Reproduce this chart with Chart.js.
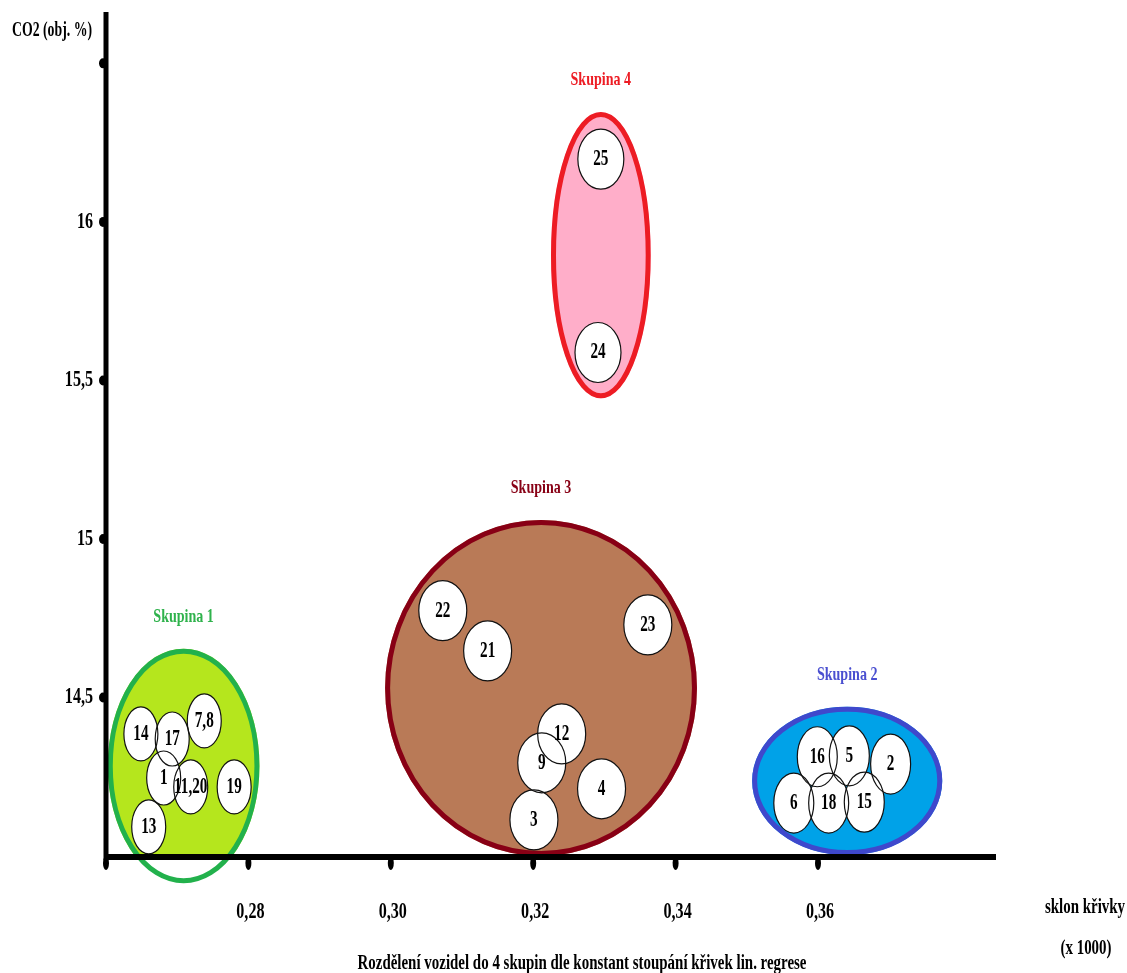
<!DOCTYPE html>
<html>
<head>
<meta charset="utf-8">
<script src="https://cdn.jsdelivr.net/npm/chart.js@4.4.1/dist/chart.umd.min.js"></script>
<style>
  html, body { margin: 0; padding: 0; background: #fff; }
  #wrap { width: 1127px; height: 973px; }
</style>
</head>
<body>
<div id="wrap"><canvas id="chart" width="1127" height="973"></canvas></div>
<script>
// skupiny
const groupNames = ['Skupina 1', 'Skupina 2', 'Skupina 3', 'Skupina 4'];
const groupSlopeCenter = [0.2709, 0.3641, 0.3211, 0.3295];
const groupCo2Center = [14.284, 14.237, 14.530, 15.895];
const groupSlopeSpread = [0.01065, 0.01335, 0.0219, 0.0070];
const groupCo2Spread = [0.370, 0.234, 0.530, 0.4515];

// vozidla v jednotlivych skupinach
const vehicles1 = ['14', '17', '7,8', '1', '11,20', '19', '13'];
const slope1 = [0.2649, 0.2693, 0.2738, 0.2681, 0.2719, 0.2780, 0.2660];
const co2_1 = [14.385, 14.369, 14.426, 14.246, 14.218, 14.218, 14.092];

const vehicles2 = ['16', '5', '2', '6', '18', '15'];
const slope2 = [0.3599, 0.3644, 0.3702, 0.3566, 0.3615, 0.3665];
const co2_2 = [14.313, 14.316, 14.290, 14.167, 14.167, 14.170];

const vehicles3 = ['22', '21', '23', '12', '9', '4', '3'];
const slope3 = [0.3073, 0.3136, 0.3361, 0.3240, 0.3212, 0.3296, 0.3201];
const co2_3 = [14.774, 14.647, 14.729, 14.385, 14.294, 14.212, 14.114];

const vehicles4 = ['25', '24'];
const slope4 = [0.3295, 0.3291];
const co2_4 = [16.198, 15.588];

// osy
const xTicks = [0.26, 0.28, 0.30, 0.32, 0.34, 0.36];
const xTickLabels = ['', '0,28', '0,30', '0,32', '0,34', '0,36'];
const yTicks = [14.5, 15, 15.5, 16, 16.5];
const yTickLabels = ['14,5', '15', '15,5', '16', ''];

const groupFill = ['#b5e61d', '#00a2e8', '#b97a57', '#ffaec9'];
const groupStroke = ['#22b14c', '#3f48cc', '#880015', '#ed1c24'];
const groupText = ['#2fb24c', '#4a4fd0', '#880015', '#ed1c24'];
const circleRx = [17, 20, 24, 23];
const circleRy = [27, 30, 30, 30];

const vehicles = [vehicles1, vehicles2, vehicles3, vehicles4];
const slopes = [slope1, slope2, slope3, slope4];
const co2s = [co2_1, co2_2, co2_3, co2_4];

function drawText(ctx, text, x, y, size, color, sx, align) {
    ctx.save();
    ctx.font = 'bold ' + size + 'px "Liberation Serif", "Times New Roman", serif';
    ctx.fillStyle = color;
    ctx.textBaseline = 'middle';
    ctx.textAlign = align || 'center';
    ctx.translate(x, y);
    ctx.scale(sx, 1);
    ctx.fillText(text, 0, 0);
    ctx.restore();
}

function drawTextWidth(ctx, text, x, y, size, color, width) {
    ctx.save();
    ctx.font = 'bold ' + size + 'px "Liberation Serif", "Times New Roman", serif';
    const w = ctx.measureText(text).width;
    ctx.restore();
    drawText(ctx, text, x, y, size, color, width / w, 'center');
}

function ellipse(ctx, x, y, rx, ry) {
    ctx.beginPath();
    ctx.ellipse(x, y, rx, ry, 0, 0, Math.PI * 2);
}

const diagramPlugin = {
    id: 'diagram',
    afterDraw(chart) {
        const ctx = chart.ctx;
        const xs = chart.scales.x;
        const ys = chart.scales.y;
        const area = chart.chartArea;

        // skupiny - vypln jen nad osou, obrys cely
        groupNames.forEach((name, g) => {
            const cx = xs.getPixelForValue(groupSlopeCenter[g]);
            const cy = ys.getPixelForValue(groupCo2Center[g]);
            const rx = xs.getPixelForValue(groupSlopeCenter[g] + groupSlopeSpread[g]) - cx;
            const ry = cy - ys.getPixelForValue(groupCo2Center[g] + groupCo2Spread[g]);
            ctx.save();
            ctx.beginPath();
            ctx.rect(area.left, 0, area.right - area.left, area.bottom);
            ctx.clip();
            ellipse(ctx, cx, cy, rx, ry);
            ctx.fillStyle = groupFill[g];
            ctx.fill();
            ctx.restore();
            ctx.save();
            ellipse(ctx, cx, cy, rx - 2.5, ry - 2.5);
            ctx.lineWidth = 5;
            ctx.strokeStyle = groupStroke[g];
            ctx.stroke();
            ctx.restore();
            drawText(ctx, name, cx, cy - ry - 32, 19, groupText[g], 0.74);
        });

        // krouzky vozidel: nejdriv vypln, pak obrysy, pak cisla
        chart.data.datasets.forEach((ds, g) => {
            const meta = chart.getDatasetMeta(g);
            ctx.save();
            ctx.fillStyle = '#fff';
            meta.data.forEach(pt => {
                ellipse(ctx, pt.x, pt.y, circleRx[g], circleRy[g]);
                ctx.fill();
            });
            ctx.strokeStyle = '#111';
            ctx.lineWidth = 1.2;
            meta.data.forEach(pt => {
                ellipse(ctx, pt.x, pt.y, circleRx[g], circleRy[g]);
                ctx.stroke();
            });
            ctx.restore();
            meta.data.forEach((pt, i) => {
                drawText(ctx, vehicles[g][i], pt.x, pt.y, 23, '#000', 0.66);
            });
        });

        // osy
        ctx.save();
        ctx.fillStyle = '#000';
        ctx.fillRect(area.left - 2.5, 12, 5, area.bottom - 12 + 4);
        ctx.fillRect(area.left - 2, area.bottom - 2, area.right - area.left + 2, 6);
        xTicks.forEach(v => {
            const px = xs.getPixelForValue(v);
            ellipse(ctx, px, area.bottom + 7, 3, 7);
            ctx.fill();
        });
        yTicks.forEach(v => {
            const py = ys.getPixelForValue(v);
            ellipse(ctx, area.left - 3, py, 4, 5);
            ctx.fill();
        });
        ctx.restore();

        xTicks.forEach((v, i) => {
            if (xTickLabels[i]) drawText(ctx, xTickLabels[i], xs.getPixelForValue(v) + 2, 912, 23, '#000', 0.7);
        });
        yTicks.forEach((v, i) => {
            if (yTickLabels[i]) drawText(ctx, yTickLabels[i], 93, ys.getPixelForValue(v), 23, '#000', 0.7, 'right');
        });

        drawTextWidth(ctx, 'CO2 (obj. %)', 52, 31, 20, '#000', 80);
        drawTextWidth(ctx, 'sklon křivky', 1085, 908, 20, '#000', 80);
        drawTextWidth(ctx, '(x 1000)', 1086, 949, 20, '#000', 51);
        drawTextWidth(ctx, 'Rozdělení vozidel do 4 skupin dle konstant stoupání křivek lin. regrese', 582, 964, 20, '#000', 449);
    }
};

const datasets = groupNames.map((name, g) => ({
    label: name,
    data: slopes[g].map((s, i) => ({ x: s, y: co2s[g][i] })),
    pointRadius: 0,
    pointHoverRadius: 0
}));

const ctx = document.getElementById('chart').getContext('2d');
const diagram = new Chart(ctx, {
    type: 'scatter',
    data: { datasets: datasets },
    options: {
        responsive: false,
        animation: false,
        events: [],
        layout: {
            padding: { left: 106, right: 131, top: 12, bottom: 117 }
        },
        plugins: {
            legend: { display: false },
            tooltip: { enabled: false }
        },
        scales: {
            x: {
                type: 'linear',
                min: 0.26,
                max: 0.385,
                grid: { display: false },
                border: { display: false },
                ticks: { display: false },
                afterFit(scale) { scale.height = 0; }
            },
            y: {
                type: 'linear',
                min: 14,
                max: 16.662,
                grid: { display: false },
                border: { display: false },
                ticks: { display: false },
                afterFit(scale) { scale.width = 0; }
            }
        }
    },
    plugins: [diagramPlugin]
});
</script>
</body>
</html>
